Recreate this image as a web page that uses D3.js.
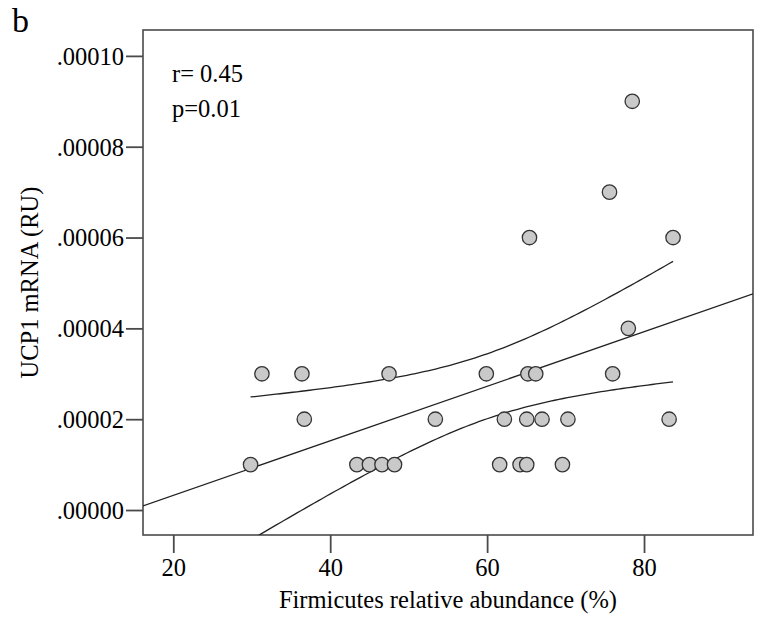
<!DOCTYPE html>
<html>
<head>
<meta charset="utf-8">
<script src="https://cdn.jsdelivr.net/npm/d3@7"></script>
<style>
  html, body { margin: 0; padding: 0; background: #fff; }
  svg { display: block; }
  text { font-family: "Liberation Serif", "Times New Roman", serif; fill: #000; }
</style>
</head>
<body>
<svg id="chart" width="760" height="641"></svg>
<script>
// Firmicutes relative abundance (%) per subject
const firmicutes = [
  29.85, 43.4, 45.0, 46.6, 48.2, 61.6, 64.2, 65.05, 69.6,
  36.7, 53.4, 62.2, 65.05, 67.0, 70.3, 83.2,
  31.3, 36.4, 47.5, 59.9, 65.2, 66.2, 76.0,
  78.0, 65.4, 83.7, 75.6, 78.5
];
// UCP1 mRNA (relative units) for the same subjects
const ucp1 = [
  0.00001, 0.00001, 0.00001, 0.00001, 0.00001, 0.00001, 0.00001, 0.00001, 0.00001,
  0.00002, 0.00002, 0.00002, 0.00002, 0.00002, 0.00002, 0.00002,
  0.00003, 0.00003, 0.00003, 0.00003, 0.00003, 0.00003, 0.00003,
  0.00004, 0.00006, 0.00006, 0.00007, 0.00009
];
const xTicks = [20, 40, 60, 80];
const yTicks = [0, 0.00002, 0.00004, 0.00006, 0.00008, 0.00010];
const statsLines = ["r= 0.45", "p=0.01"];
const panelLabel = "b";
const xTitle = "Firmicutes relative abundance (%)";
const yTitle = "UCP1 mRNA (RU)";

const svg = d3.select("#chart");
const box = { left: 143, right: 753, top: 30, bottom: 535 };

const x = d3.scaleLinear().domain([16.14, 93.89]).range([box.left, box.right]);
const y = d3.scaleLinear().domain([-0.0000055, 0.0001057]).range([box.bottom, box.top]);

const axisColor = "#4a4a4a";
const fontSize = 24.5;

// clip for lines inside the frame
svg.append("defs").append("clipPath").attr("id", "plotClip")
  .append("rect")
  .attr("x", box.left).attr("y", box.top)
  .attr("width", box.right - box.left).attr("height", box.bottom - box.top);

// frame
svg.append("rect")
  .attr("x", box.left).attr("y", box.top)
  .attr("width", box.right - box.left).attr("height", box.bottom - box.top)
  .attr("fill", "none").attr("stroke", axisColor).attr("stroke-width", 1.6);

// axes
const fmtY = v => d3.format(".5f")(v).replace(/^0/, "");
const yAxis = d3.axisLeft(y).tickValues(yTicks).tickFormat(fmtY).tickSize(17).tickPadding(2);
const xAxis = d3.axisBottom(x).tickValues(xTicks).tickFormat(d3.format("d")).tickSize(18).tickPadding(6);

const gy = svg.append("g").attr("transform", `translate(${box.left},0)`).call(yAxis);
const gx = svg.append("g").attr("transform", `translate(0,${box.bottom})`).call(xAxis);
[gx, gy].forEach(g => {
  g.select(".domain").remove();
  g.selectAll(".tick line").attr("stroke", axisColor).attr("stroke-width", 1.8);
  g.selectAll(".tick text")
    .attr("font-family", "Liberation Serif, Times New Roman, serif")
    .attr("font-size", fontSize).attr("fill", "#000");
});
gy.selectAll(".tick text").attr("dy", "0.34em");

// least squares fit with 95% confidence band for the mean
const n = firmicutes.length;
const mx = d3.mean(firmicutes), my = d3.mean(ucp1);
let sxx = 0, sxy = 0;
for (let i = 0; i < n; i++) {
  sxx += (firmicutes[i] - mx) ** 2;
  sxy += (firmicutes[i] - mx) * (ucp1[i] - my);
}
const slope = sxy / sxx;
const intercept = my - slope * mx;
let sse = 0;
for (let i = 0; i < n; i++) sse += (ucp1[i] - (intercept + slope * firmicutes[i])) ** 2;
const se = Math.sqrt(sse / (n - 2));
const tCrit = 2.0555; // t(0.975, df = 26)
const fit = v => intercept + slope * v;
const half = v => tCrit * se * Math.sqrt(1 / n + (v - mx) ** 2 / sxx);

const plot = svg.append("g").attr("clip-path", "url(#plotClip)");

const [xMin, xMax] = d3.extent(firmicutes);
const bandX = d3.range(0, 101).map(i => xMin + (xMax - xMin) * i / 100);
const lineGen = d3.line().x(d => x(d[0])).y(d => y(d[1]));

plot.append("path")
  .attr("d", lineGen(x.domain().map(v => [v, fit(v)])))
  .attr("fill", "none").attr("stroke", "#222").attr("stroke-width", 1.3);
plot.append("path")
  .attr("d", lineGen(bandX.map(v => [v, fit(v) + half(v)])))
  .attr("fill", "none").attr("stroke", "#222").attr("stroke-width", 1.3);
plot.append("path")
  .attr("d", lineGen(bandX.map(v => [v, fit(v) - half(v)])))
  .attr("fill", "none").attr("stroke", "#222").attr("stroke-width", 1.3);

// points
svg.append("g").selectAll("circle")
  .data(firmicutes.map((v, i) => [v, ucp1[i]]))
  .join("circle")
  .attr("cx", d => x(d[0])).attr("cy", d => y(d[1]))
  .attr("r", 7.2)
  .attr("fill", "#c9c9c9").attr("stroke", "#333").attr("stroke-width", 1.3);

// statistics
svg.append("g").selectAll("text")
  .data(statsLines)
  .join("text")
  .attr("x", 172).attr("y", (d, i) => 82 + i * 35)
  .attr("font-size", fontSize)
  .text(d => d);

// panel label
svg.append("text").attr("x", 12).attr("y", 32).attr("font-size", 34).text(panelLabel);

// axis titles
svg.append("text")
  .attr("x", (box.left + box.right) / 2).attr("y", 608)
  .attr("text-anchor", "middle").attr("font-size", fontSize)
  .text(xTitle);
svg.append("text")
  .attr("transform", `translate(38,${(box.top + box.bottom) / 2}) rotate(-90)`)
  .attr("text-anchor", "middle").attr("font-size", fontSize)
  .text(yTitle);
</script>
</body>
</html>
